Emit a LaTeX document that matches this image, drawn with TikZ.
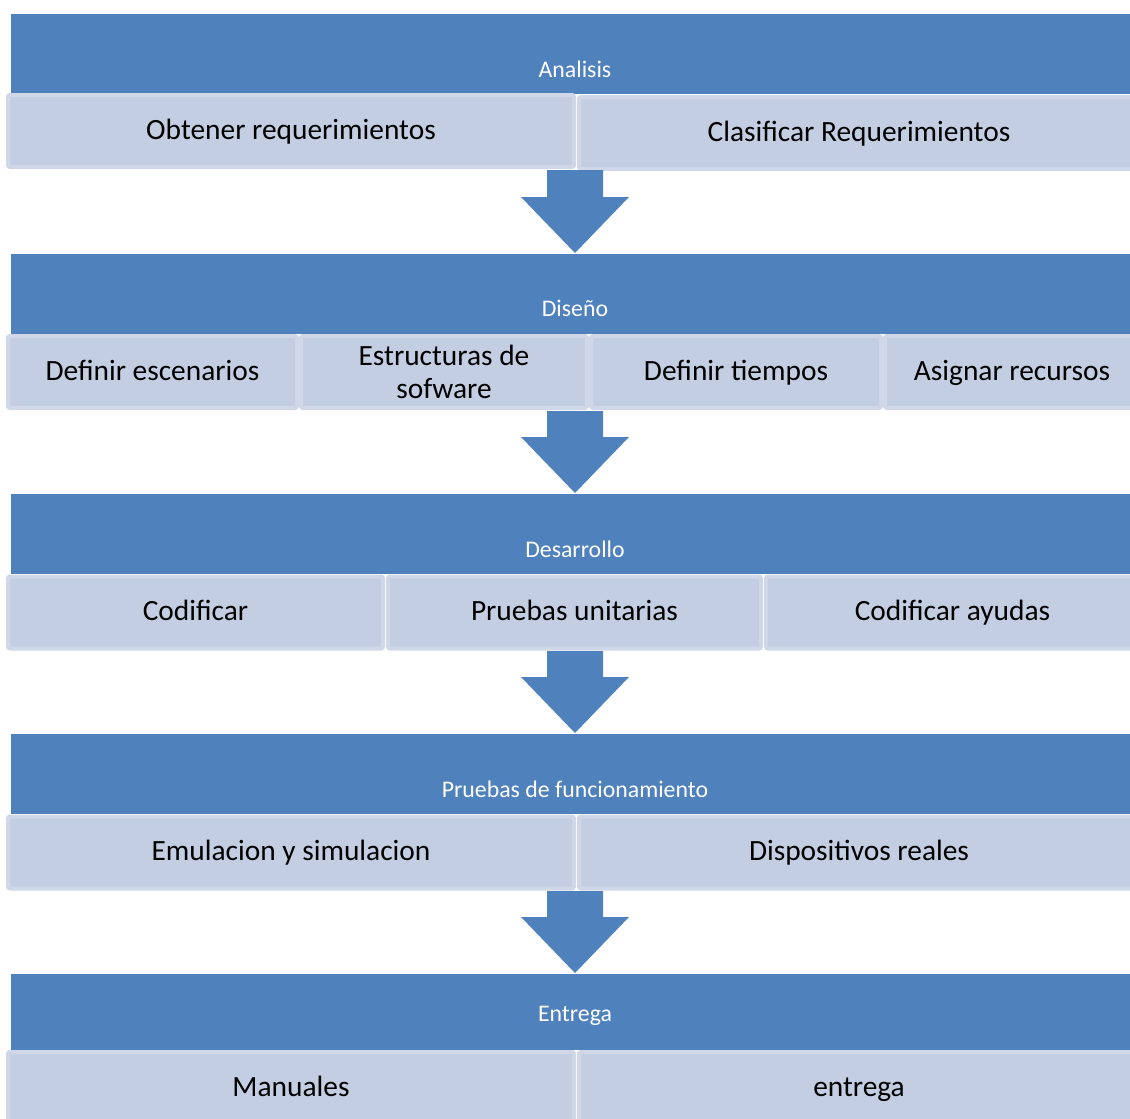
\documentclass[tikz,border=0pt]{standalone}
\usepackage{fontspec}
\setmainfont{Carlito}
\usetikzlibrary{calc}
\definecolor{azul}{RGB}{79,129,189}
\definecolor{caja}{RGB}{195,206,226}
\definecolor{borde}{RGB}{207,215,232}
\begin{document}
\begin{tikzpicture}[x=1pt,y=-1pt,
  banda/.style={fill=azul,minimum width=1130,minimum height=80,inner sep=0,anchor=center},
  titulo/.style={text=white,font=\fontsize{23.8}{27}\selectfont,anchor=base},
  paso/.style={fill=caja,draw=borde,line width=4pt,rounded corners=2pt,inner sep=0,
    minimum height=72,align=center,font=\fontsize{29.4}{33}\selectfont},
  linea/.style={paso,text height=22pt,text depth=6pt},
  flecha/.style={fill=azul}]
\useasboundingbox (0,0) rectangle (1130,1119);
\clip (0,0) rectangle (1130,1119);

\node[banda] (analisis) at (576,53.5) {};
\node[titulo] (tanalisis) at (575,77) {Analisis};
\node[linea,minimum width=566] (obtener) at (291,131) {Obtener requerimientos};
\node[linea,minimum width=560] (clasificar) at (859,133) {Clasificar Requerimientos};

\node[banda] (diseno) at (576,294) {};
\node[titulo] (tdiseno) at (575,316) {Diseño};
\node[linea,minimum width=289] (escenarios) at (152.5,372) {Definir escenarios};
\node[paso,minimum width=286] (estructuras) at (444,372) {Estructuras de\\sofware};
\node[linea,minimum width=290] (tiempos) at (736,372) {Definir tiempos};
\node[linea,minimum width=254] (recursos) at (1012,372) {Asignar recursos};

\node[banda] (desarrollo) at (576,534) {};
\node[titulo] (tdesarrollo) at (575,557) {Desarrollo};
\node[linea,minimum width=375] (codificar) at (195.5,612.5) {Codificar};
\node[linea,minimum width=373] (unitarias) at (574.5,612.5) {Pruebas unitarias};
\node[linea,minimum width=373] (ayudas) at (952.5,612.5) {Codificar ayudas};

\node[banda] (pruebas) at (576,774) {};
\node[titulo] (tpruebas) at (575,797) {Pruebas de funcionamiento};
\node[linea,minimum width=566] (emulacion) at (291,852.5) {Emulacion y simulacion};
\node[linea,minimum width=560] (dispositivos) at (859,852.5) {Dispositivos reales};

\node[banda,minimum height=76] (entrega) at (576,1012) {};
\node[titulo] (tentrega) at (575,1021) {Entrega};
\node[linea,minimum width=566] (manuales) at (291,1088) {Manuales};
\node[linea,minimum width=560] (fin) at (859,1088) {entrega};

% flechas entre etapas
\coordinate (d1) at (575,170); \coordinate (d2) at (575,253);
\coordinate (d3) at (575,411); \coordinate (d4) at (575,493);
\coordinate (d5) at (575,651); \coordinate (d6) at (575,733);
\coordinate (d7) at (575,891); \coordinate (d8) at (575,973);
\fill[flecha] let \p1=(d1),\p2=(d2) in (\x1-28pt,\y1) -- (\x1+28pt,\y1) -- (\x1+28pt,\y2+56pt) -- (\x1+54pt,\y2+56pt) -- (\x2,\y2) -- (\x1-54pt,\y2+56pt) -- (\x1-28pt,\y2+56pt) -- cycle;
\fill[flecha] let \p1=(d3),\p2=(d4) in (\x1-28pt,\y1) -- (\x1+28pt,\y1) -- (\x1+28pt,\y2+56pt) -- (\x1+54pt,\y2+56pt) -- (\x2,\y2) -- (\x1-54pt,\y2+56pt) -- (\x1-28pt,\y2+56pt) -- cycle;
\fill[flecha] let \p1=(d5),\p2=(d6) in (\x1-28pt,\y1) -- (\x1+28pt,\y1) -- (\x1+28pt,\y2+56pt) -- (\x1+54pt,\y2+56pt) -- (\x2,\y2) -- (\x1-54pt,\y2+56pt) -- (\x1-28pt,\y2+56pt) -- cycle;
\fill[flecha] let \p1=(d7),\p2=(d8) in (\x1-28pt,\y1) -- (\x1+28pt,\y1) -- (\x1+28pt,\y2+56pt) -- (\x1+54pt,\y2+56pt) -- (\x2,\y2) -- (\x1-54pt,\y2+56pt) -- (\x1-28pt,\y2+56pt) -- cycle;

\end{tikzpicture}
\end{document}
